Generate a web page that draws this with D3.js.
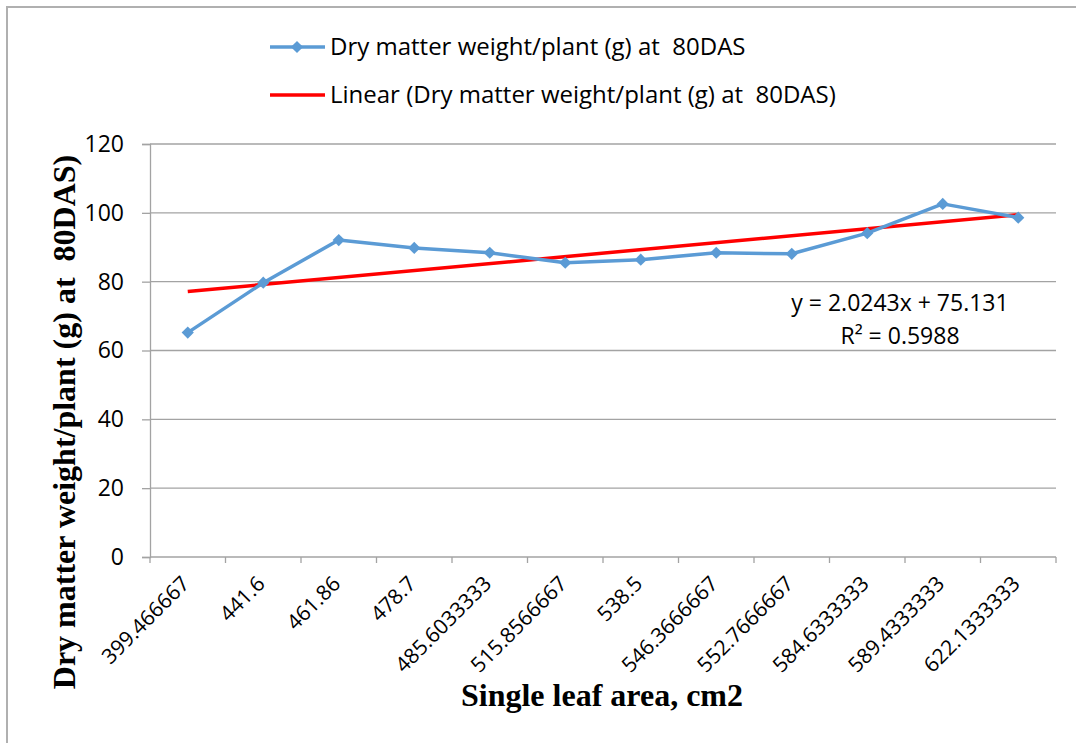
<!DOCTYPE html>
<html>
<head>
<meta charset="utf-8">
<script src="https://cdn.jsdelivr.net/npm/d3@7"></script>
<style>
  body { margin: 0; background: #fff; }
  svg { display: block; }
</style>
</head>
<body>
<div class="outer-container"></div>
<script>
const categories = ['399.466667', '441.6', '461.86', '478.7', '485.6033333', '515.8566667',
                    '538.5', '546.3666667', '552.7666667', '584.6333333', '589.4333333', '622.1333333']
const dryMatter = [65.2, 79.7, 92.1, 89.8, 88.4, 85.5, 86.4, 88.4, 88.1, 94.1, 102.6, 98.6]
const yTicks = [0, 20, 40, 60, 80, 100, 120]
const trendSlope = 2.0243
const trendIntercept = 75.131
const seriesName = 'Dry matter weight/plant (g) at  80DAS'
const trendName = 'Linear (Dry matter weight/plant (g) at  80DAS)'

const w = 1076
const h = 743
const plotLeft = 150
const plotRight = 1056
const plotTop = 144
const plotBottom = 557
const sans = '"Open Sans", Lato, sans-serif'
const serif = '"Liberation Serif", "Times New Roman", serif'

const svg = d3.select('.outer-container')
              .append('svg')
              .attr('width', w)
              .attr('height', h)

// outer chart border (cut off at right/bottom in the original)
svg.append('path')
   .attr('d', 'M7,' + h + ' V7 H' + w)
   .attr('fill', 'none')
   .attr('stroke', '#b0b0b0')
   .attr('stroke-width', 2)

const xScale = d3.scaleBand()
                 .domain(categories)
                 .range([plotLeft, plotRight])

const yScale = d3.scaleLinear()
                 .domain([0, 120])
                 .range([plotBottom, plotTop])

// gridlines
svg.append('g')
   .selectAll('line')
   .data(yTicks.slice(1))
   .enter()
   .append('line')
   .attr('x1', plotLeft)
   .attr('x2', plotRight)
   .attr('y1', d => yScale(d))
   .attr('y2', d => yScale(d))
   .attr('stroke', '#a3a3a3')
   .attr('stroke-width', 1.3)

// y axis
const yAxis = d3.axisLeft(yScale).tickValues(yTicks).tickSize(8).tickPadding(18)
const gy = svg.append('g')
              .attr('transform', 'translate(' + plotLeft + ',0)')
              .call(yAxis)
gy.select('.domain').attr('stroke', '#a3a3a3').attr('stroke-width', 1.3)
gy.selectAll('.tick line').attr('stroke', '#a3a3a3').attr('stroke-width', 1.3)
gy.selectAll('.tick text')
  .attr('font-family', sans)
  .attr('font-size', 23)
  .attr('fill', '#000')

// x axis: ticks on category boundaries
const gx = svg.append('g')
              .attr('transform', 'translate(0,' + plotBottom + ')')
gx.append('line')
  .attr('x1', plotLeft).attr('x2', plotRight)
  .attr('stroke', '#a3a3a3').attr('stroke-width', 1.3)
const bounds = categories.map(c => xScale(c)).concat([plotRight])
gx.selectAll('line.tk')
  .data(bounds)
  .enter()
  .append('line')
  .attr('class', 'tk')
  .attr('x1', d => d).attr('x2', d => d)
  .attr('y1', 0).attr('y2', 6)
  .attr('stroke', '#a3a3a3').attr('stroke-width', 1.3)
gx.selectAll('text')
  .data(categories)
  .enter()
  .append('text')
  .attr('transform', d => 'translate(' + (xScale(d) + xScale.bandwidth() / 2 + 3) + ',28) rotate(-45)')
  .attr('text-anchor', 'end')
  .attr('font-family', sans)
  .attr('font-size', 21)
  .attr('fill', '#000')
  .text(d => d)

const cx = d => xScale(d) + xScale.bandwidth() / 2

// trend line
const trend = [1, categories.length].map(i => ({ c: categories[i - 1], v: trendSlope * i + trendIntercept }))
svg.append('path')
   .datum(trend)
   .attr('d', d3.line().x(d => cx(d.c)).y(d => yScale(d.v)))
   .attr('fill', 'none')
   .attr('stroke', '#ff0000')
   .attr('stroke-width', 3.5)

// series line + markers
const series = categories.map((c, i) => ({ c: c, v: dryMatter[i] }))
svg.append('path')
   .datum(series)
   .attr('d', d3.line().x(d => cx(d.c)).y(d => yScale(d.v)))
   .attr('fill', 'none')
   .attr('stroke', '#5b9bd5')
   .attr('stroke-width', 3.5)
   .attr('stroke-linejoin', 'round')

const diamond = d3.symbol().type(d3.symbolDiamond2).size(95)
svg.selectAll('path.marker')
   .data(series)
   .enter()
   .append('path')
   .attr('class', 'marker')
   .attr('d', diamond)
   .attr('transform', d => 'translate(' + cx(d.c) + ',' + yScale(d.v) + ')')
   .attr('fill', '#5b9bd5')

// equation
svg.selectAll('text.eq')
   .data(['y = 2.0243x + 75.131', 'R² = 0.5988'])
   .enter()
   .append('text')
   .attr('class', 'eq')
   .attr('x', 900)
   .attr('y', (d, i) => 311 + i * 33)
   .attr('text-anchor', 'middle')
   .attr('font-family', sans)
   .attr('font-size', 23)
   .text(d => d)

// legend
const legend = svg.append('g')
legend.append('line')
      .attr('x1', 270).attr('x2', 325).attr('y1', 47).attr('y2', 47)
      .attr('stroke', '#5b9bd5').attr('stroke-width', 3.5)
legend.append('path')
      .attr('d', diamond)
      .attr('transform', 'translate(297,47)')
      .attr('fill', '#5b9bd5')
legend.append('line')
      .attr('x1', 270).attr('x2', 325).attr('y1', 95).attr('y2', 95)
      .attr('stroke', '#ff0000').attr('stroke-width', 3.5)
legend.selectAll('text')
      .data([seriesName, trendName])
      .enter()
      .append('text')
      .attr('x', 330)
      .attr('y', (d, i) => 55 + i * 48)
      .attr('font-family', sans)
      .attr('font-size', 24)
      .style('white-space', 'pre')
      .text(d => d)

// axis titles
svg.append('text')
   .attr('x', 602).attr('y', 706)
   .attr('text-anchor', 'middle')
   .attr('font-family', serif)
   .attr('font-weight', 'bold')
   .attr('font-size', 32)
   .text('Single leaf area, cm2')

svg.append('text')
   .attr('transform', 'translate(75,422) rotate(-90)')
   .attr('text-anchor', 'middle')
   .attr('font-family', serif)
   .attr('font-weight', 'bold')
   .attr('font-size', 32)
   .style('white-space', 'pre')
   .text('Dry matter weight/plant (g) at  80DAS)')
</script>
</body>
</html>
